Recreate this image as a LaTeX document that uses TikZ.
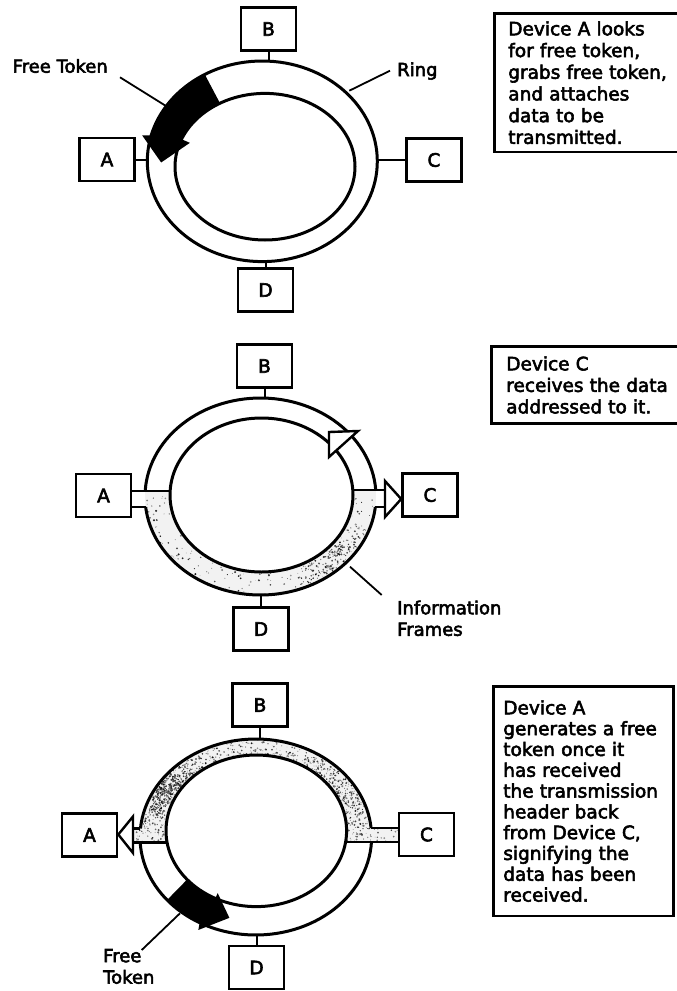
\documentclass[tikz,border=0pt]{standalone}
\usepackage{fontspec}
\setmainfont{DejaVu Sans}[FakeBold=3]
\usetikzlibrary{calc}

% ring geometry: outer centre/radii, inner centre/radii
\newcommand\setring[8]{\def\ocx{#1}\def\ocy{#2}\def\orx{#3}\def\ory{#4}\def\icx{#5}\def\icy{#6}\def\irx{#7}\def\iry{#8}}
% point at angle #2, fraction #3 across the band (0 = inner edge, 1 = outer edge)
\newcommand\ringcoord[3]{\coordinate (#1) at ({(1-(#3))*(\icx+\irx*cos(#2))+(#3)*(\ocx+\orx*cos(#2))},{(1-(#3))*(\icy-\iry*sin(#2))+(#3)*(\ocy-\ory*sin(#2))});}
\newcommand\outerarc[2]{plot[domain=#1:#2,samples=60] ({\ocx+\orx*cos(\x)},{\ocy-\ory*sin(\x)})}
\newcommand\innerarcto[2]{-- plot[domain=#1:#2,samples=60] ({\icx+\irx*cos(\x)},{\icy-\iry*sin(\x)})}
% stippled texture of the information frames: #1 dots between angles #2 and #2+#3,
% with a second batch of darker grains gathered around angle #4
\newcommand\ringspeckle[4]{%
  \foreach \k in {1,...,#1}{%
    \pgfmathsetmacro\spkt{#2+#3*rnd}%
    \pgfmathsetmacro\spkf{-0.05+1.1*rnd}%
    \pgfmathsetmacro\spkr{0.3+0.8*rnd}%
    \pgfmathtruncatemacro\spkg{35+60*rnd}%
    \fill[black!\spkg] ({(1-\spkf)*(\icx+\irx*cos(\spkt))+\spkf*(\ocx+\orx*cos(\spkt))},{(1-\spkf)*(\icy-\iry*sin(\spkt))+\spkf*(\ocy-\ory*sin(\spkt))}) circle[radius=\spkr pt];
  }%
  \foreach \k in {1,...,#1}{%
    \pgfmathsetmacro\spkt{#4+25*(rnd+rnd+rnd-1.5)}%
    \pgfmathsetmacro\spkf{0.1+0.8*rnd}%
    \pgfmathsetmacro\spkr{0.3+0.8*rnd}%
    \pgfmathtruncatemacro\spkg{55+40*rnd}%
    \fill[black!\spkg] ({(1-\spkf)*(\icx+\irx*cos(\spkt))+\spkf*(\ocx+\orx*cos(\spkt))},{(1-\spkf)*(\icy-\iry*sin(\spkt))+\spkf*(\ocy-\ory*sin(\spkt))}) circle[radius=\spkr pt];
  }}
\newcommand\boxspeckle[5]{%
  \foreach \k in {1,...,#1}{%
    \pgfmathsetmacro\spkx{#2+#4*rnd}%
    \pgfmathsetmacro\spky{#3+#5*rnd}%
    \pgfmathsetmacro\spkr{0.3+0.8*rnd}%
    \pgfmathtruncatemacro\spkg{40+55*rnd}%
    \fill[black!\spkg] (\spkx,\spky) circle[radius=\spkr pt];
  }}

\begin{document}
\begin{tikzpicture}[x=1pt,y=-1pt,
  dev/.style={draw,line width=2.6pt,minimum width=55pt,minimum height=43pt,inner sep=0pt,font=\fontsize{18.5}{21}\selectfont},
  notebox/.style={draw,line width=2.6pt,anchor=north west,align=left,inner xsep=13pt},
  lbl/.style={inner sep=0pt,align=left,font=\fontsize{18}{21.5}\selectfont},
  ringline/.style={line width=3pt},
  stub/.style={line width=2pt},
  leader/.style={line width=1.8pt},
  pipe/.style={line width=2.6pt},
  opentip/.style={draw,fill=white,line width=2.4pt,line join=miter},
  band/.style={fill=black!5},
]
\useasboundingbox (0,0) rectangle (677,991);
\clip (0,0) rectangle (677,991);

% ================= stage 1: token seized by A =================
\setring{262.3}{161.3}{115}{100.3}{265}{166.7}{90}{73.3}
\node[dev] (A1) at (107,159.5) {A};
\node[dev] (B1) at (268.5,29) {B};
\node[dev] (C1) at (434,160) {C};
\node[dev] (D1) at (265.5,290) {D};
\coordinate (r1t) at (\ocx,{\ocy-\ory});
\coordinate (r1b) at (\ocx,{\ocy+\ory});
\coordinate (r1l) at ({\ocx-\orx},\ocy);
\coordinate (r1r) at ({\ocx+\orx},\ocy);
\draw[stub] (B1.south) -- (B1.south |- r1t);
\draw[stub] (D1.north) -- (D1.north |- r1b);
\draw[stub] (A1.east) -- (A1.east -| r1l);
\draw[stub] (C1.west) -- (C1.west -| r1r);
\draw[ringline] (\ocx,\ocy) ellipse[x radius=\orx pt,y radius=\ory pt];
\draw[ringline] (\icx,\icy) ellipse[x radius=\irx pt,y radius=\iry pt];
% free token
\ringcoord{t1o}{167}{1.3}
\ringcoord{t1tip}{179}{0.5}
\ringcoord{t1i}{157}{-0.3}
\fill \outerarc{120}{165} -- (t1o) -- (t1tip) -- (t1i) \innerarcto{158}{120} -- cycle;
\node[lbl,anchor=base east] (ft1) at (108,72.7) {Free Token};
\coordinate (ft1a) at (120,77.3);
\coordinate (ft1b) at (166,106);
\draw[leader] (ft1a) -- (ft1b);
\node[lbl,anchor=base west] (ring1) at (397,76) {Ring};
\coordinate (rg1a) at (390,70.7);
\coordinate (rg1b) at (349.3,90.7);
\draw[leader] (rg1a) -- (rg1b);
\node[notebox,inner ysep=8pt,inner xsep=14pt,text width=174pt,font=\fontsize{18.5}{21.7}\selectfont] (n1) at (493,12)
  {Device A looks\\for free token,\\grabs free token,\\and attaches\\data to be\\transmitted.};

% ================= stage 2: C copies the frames =================
\setring{260.5}{496.5}{115.5}{98.5}{261.5}{495}{91.5}{77}
\begin{scope}
  \clip (0,491) rectangle (677,700);
  \clip (\ocx,\ocy) ellipse[x radius=\orx pt,y radius=\ory pt];
  \fill[band] (0,491) rectangle (677,700);
  \pgfmathsetseed{7}
  \ringspeckle{170}{170}{200}{315}
\end{scope}
\fill[white] (\icx,\icy) ellipse[x radius=\irx pt,y radius=\iry pt];
\node[dev] (A2) at (103.5,495.5) {A};
\node[dev] (B2) at (264.5,366) {B};
\node[dev] (C2) at (430,495) {C};
\node[dev] (D2) at (261,629) {D};
\coordinate (r2t) at (\ocx,{\ocy-\ory});
\coordinate (r2b) at (\ocx,{\ocy+\ory});
\draw[stub] (B2.south) -- (B2.south |- r2t);
\draw[stub] (D2.north) -- (D2.north |- r2b);
\draw[ringline] (\icx,\icy) ellipse[x radius=\irx pt,y radius=\iry pt];
\pgfmathsetmacro\ta{asin((\ocy-490)/\ory)}
\pgfmathsetmacro\tb{180-asin((\ocy-491)/\ory)}
\pgfmathsetmacro\tc{180+asin((507-\ocy)/\ory)}
\pgfmathsetmacro\td{360-asin((507-\ocy)/\ory)}
\draw[ringline] \outerarc{\ta}{\tb};
\draw[ringline] \outerarc{\tc}{\td};
\coordinate (m-il) at ({\icx-\irx*cos(asin((\icy-491)/\iry))},491);
\coordinate (m-ol) at ({\ocx-\orx*cos(asin((507-\ocy)/\ory))},507);
\coordinate (m-ir) at ({\icx+\irx*cos(asin((\icy-490)/\iry))},490);
\coordinate (m-or) at ({\ocx+\orx*cos(asin((507-\ocy)/\ory))},507);
\coordinate (m-ab) at (385,499);
\draw[pipe] (A2.east |- m-il) -- (m-il);
\draw[pipe] (A2.east |- m-ol) -- (m-ol);
\draw[pipe] (m-ir) -- (m-ir -| m-ab);
\draw[pipe] (m-or) -- (m-or -| m-ab);
\coordinate (m-a1) at (385,481);
\coordinate (m-a2) at (385,517);
\draw[opentip] (m-a1) -- (m-a2) -- (C2.west |- m-ab) -- cycle;
% header travelling back towards A
\coordinate (h1) at (329,432);
\coordinate (h2) at (358,431);
\coordinate (h3) at (329,457);
\draw[opentip] (h1) -- (h2) -- (h3) -- cycle;
\node[lbl,anchor=north west] (if2) at (397,600.4) {Information\\Frames};
\coordinate (if2a) at (381.7,595);
\coordinate (if2b) at (350,566.7);
\draw[leader] (if2a) -- (if2b);
\node[notebox,inner ysep=10pt,inner xsep=15pt,text width=175pt,font=\fontsize{18.5}{21.5}\selectfont] (n2) at (490,345)
  {Device C\\receives the data\\addressed to it.};

% ================= stage 3: A releases a new token =================
\setring{255.8}{837}{115.8}{98}{256.3}{830.8}{90.3}{75.8}
\begin{scope}
  \clip (0,700) rectangle (677,842);
  \clip (\ocx,\ocy) ellipse[x radius=\orx pt,y radius=\ory pt];
  \fill[band] (0,700) rectangle (677,842);
  \pgfmathsetseed{11}
  \ringspeckle{380}{-10}{200}{150}
  \ringspeckle{150}{-10}{200}{30}
\end{scope}
\begin{scope}
  \clip (133,828.5) rectangle (160,842.5);
  \fill[band] (133,828.5) rectangle (160,842.5);
  \boxspeckle{30}{133}{828.5}{27}{14}
\end{scope}
\begin{scope}
  \clip (355,828) rectangle (398,842);
  \fill[band] (355,828) rectangle (398,842);
  \boxspeckle{40}{355}{828}{43}{14}
\end{scope}
\fill[white] (\icx,\icy) ellipse[x radius=\irx pt,y radius=\iry pt];
\node[dev] (A3) at (89.5,835) {A};
\node[dev] (B3) at (260,705) {B};
\node[dev] (C3) at (426.5,834.5) {C};
\node[dev] (D3) at (256.5,967.5) {D};
\coordinate (r3t) at (\ocx,{\ocy-\ory});
\coordinate (r3b) at (\ocx,{\ocy+\ory});
\draw[stub] (B3.south) -- (B3.south |- r3t);
\draw[stub] (D3.north) -- (D3.north |- r3b);
\draw[ringline] (\icx,\icy) ellipse[x radius=\irx pt,y radius=\iry pt];
\pgfmathsetmacro\ta{asin((\ocy-828)/\ory)}
\pgfmathsetmacro\tb{180-asin((\ocy-828.5)/\ory)}
\pgfmathsetmacro\tc{180+asin((842.5-\ocy)/\ory)}
\pgfmathsetmacro\td{360-asin((842-\ocy)/\ory)}
\draw[ringline] \outerarc{\ta}{\tb};
\draw[ringline] \outerarc{\tc}{\td};
\coordinate (b-ol) at ({\ocx-\orx*cos(asin((\ocy-828.5)/\ory))},828.5);
\coordinate (b-il) at ({\icx-\irx*cos(asin((842.5-\icy)/\iry))},842.5);
\coordinate (b-or) at ({\ocx+\orx*cos(asin((\ocy-828)/\ory))},828);
\coordinate (b-ir) at ({\icx+\irx*cos(asin((842-\icy)/\iry))},842);
\coordinate (b-ab) at (133,834.5);
\draw[pipe] (b-ol) -- (b-ol -| b-ab);
\draw[pipe] (b-il) -- (b-il -| b-ab);
\draw[pipe] (b-or) -- (b-or -| C3.west);
\draw[pipe] (b-ir) -- (b-ir -| C3.west);
\coordinate (b-a1) at (133,816.5);
\coordinate (b-a2) at (133,853);
\draw[opentip] (b-a1) -- (b-a2) -- (A3.east |- b-ab) -- cycle;
% new free token
\ringcoord{t3o}{242}{1.25}
\ringcoord{t3tip}{255}{0.5}
\ringcoord{t3i}{243}{-0.2}
\fill \outerarc{220}{241} -- (t3o) -- (t3tip) -- (t3i) \innerarcto{243}{220} -- cycle;
\node[lbl,anchor=north west] (ft3) at (103,948.8) {Free\\Token};
\coordinate (ft3a) at (141.7,950);
\coordinate (ft3b) at (180,913.3);
\draw[leader] (ft3a) -- (ft3b);
\node[notebox,inner ysep=14pt,inner xsep=10pt,text width=160pt,font=\fontsize{18.5}{20.8}\selectfont] (n3) at (492,685)
  {Device A\\generates a free\\token once it\\has received\\the transmission\\header back\\from Device C,\\signifying the\\data has been\\received.};
\end{tikzpicture}
\end{document}
